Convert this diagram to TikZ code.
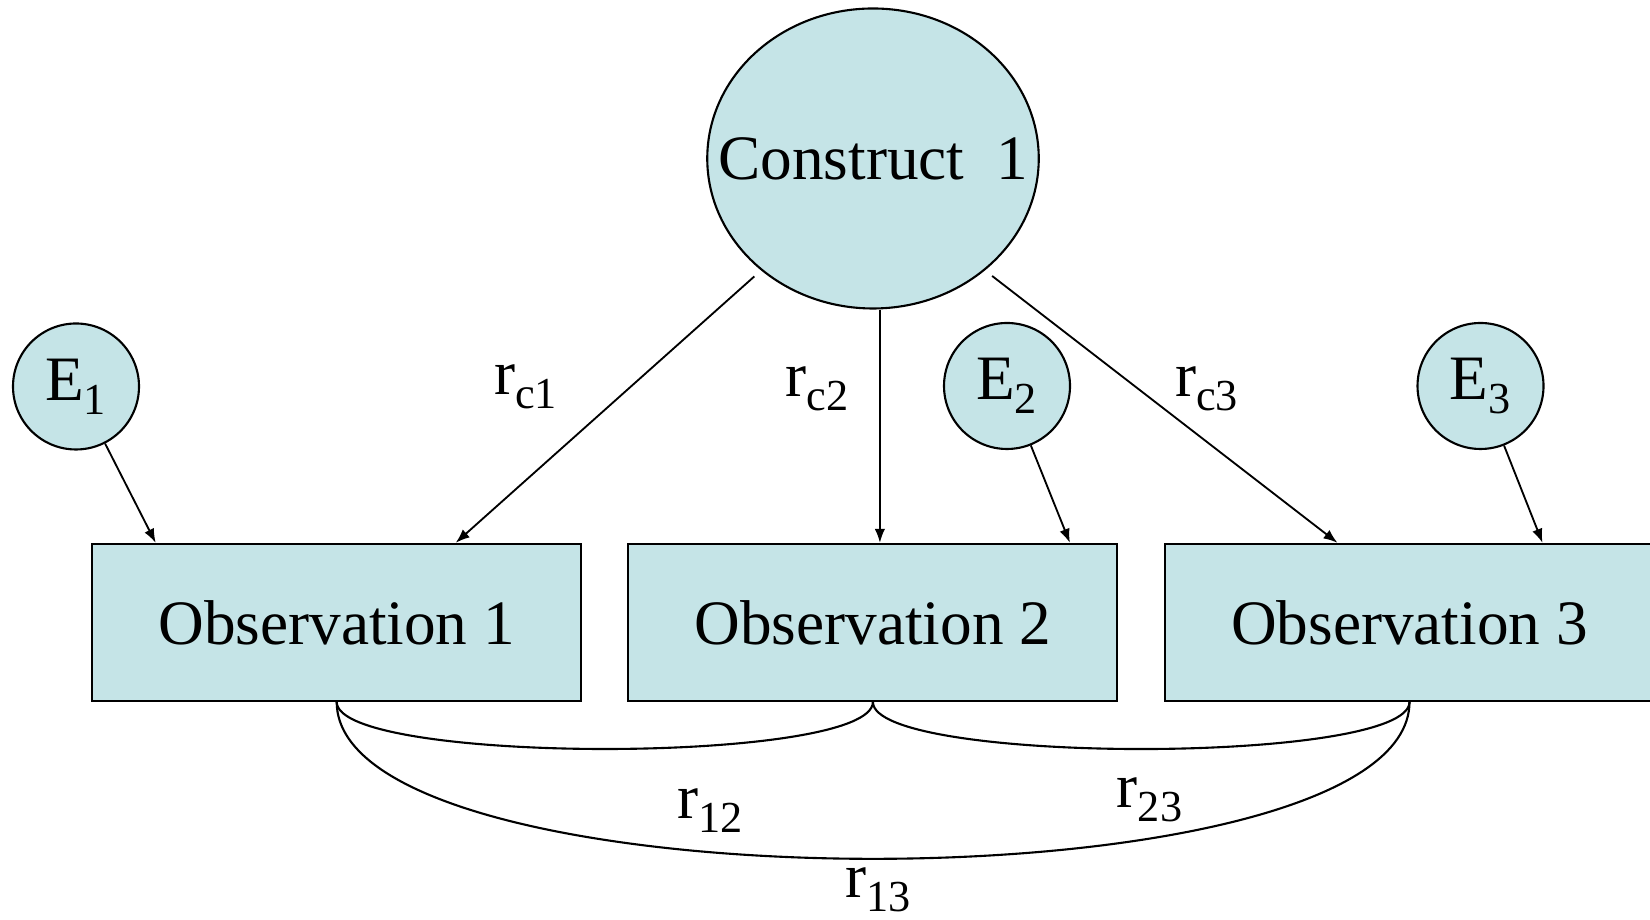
\documentclass[tikz,border=0pt]{standalone}
\usepackage{fontspec}
\setmainfont{Liberation Serif}
\usepackage{tikz}
\usetikzlibrary{calc, shapes.geometric, arrows.meta}
\definecolor{fillColor}{HTML}{C5E4E7}

\begin{document}
\begin{tikzpicture}[
    font=\fontsize{36}{40}\selectfont,
    >={Latex[length=8pt,width=6pt]},
    obs/.style={draw, fill=fillColor, line width=1.2pt, inner sep=0pt,
        minimum width=9.78cm, minimum height=3.14cm},
    err/.style={draw, fill=fillColor, circle, line width=1.2pt, inner sep=0pt,
        minimum size=2.52cm},
    link/.style={->, line width=1.05pt},
    corr/.style={line width=1.2pt}]
    \useasboundingbox (0,0) rectangle (33,18.4);

    \node[draw, fill=fillColor, ellipse, line width=1.2pt, inner sep=0pt,
        minimum width=6.63cm, minimum height=6.0cm,
        label=center:{Construct~\ 1}] (construct) at (17.46,15.23) {};
    \node[err] (e1) at (1.52,10.67) {E\textsubscript{1}};
    \node[err] (e2) at (20.14,10.68) {E\textsubscript{2}};
    \node[err] (e3) at (29.61,10.68) {E\textsubscript{3}};
    \node[obs] (obs1) at (6.734,5.952) {Observation 1};
    \node[obs] (obs2) at (17.458,5.952) {Observation 2};
    \node[obs] (obs3) at (28.19,5.952) {Observation 3};

    % loadings
    \draw[link, shorten <=0.18cm] (construct.225) -- ($(obs1.north)+(2.38,0)$);
    \coordinate (c2) at ($(obs2.north)+(0.14,0)$);
    \draw[link] (construct.south -| c2) -- (c2);
    \draw[link, shorten <=0.18cm] (construct.315) -- ($(obs3.north)+(-1.44,0)$);
    % errors
    \draw[link] (e1) -- ($(obs1.north)+(-3.62,0)$);
    \draw[link] (e2) -- ($(obs2.north)+(3.94,0)$);
    \draw[link] (e3) -- ($(obs3.north)+(2.66,0)$);

    % correlations
    \draw[corr] (obs1.south) to[out=-90, in=-90, looseness=0.3] (obs2.south);
    \draw[corr] (obs2.south) to[out=-90, in=-90, looseness=0.3] (obs3.south);
    \draw[corr] (obs1.south) to[out=-90, in=-90, looseness=0.5] (obs3.south);

    \node (rc1) at (10.52,10.66) {r\textsubscript{c1}};
    \node (rc2) at (16.35,10.62) {r\textsubscript{c2}};
    \node (rc3) at (24.14,10.62) {r\textsubscript{c3}};
    \node (r12) at (14.21,2.19) {r\textsubscript{12}};
    \node (r23) at (23.0,2.4) {r\textsubscript{23}};
    \node (r13) at (17.57,0.6) {r\textsubscript{13}};
\end{tikzpicture}
\end{document}
